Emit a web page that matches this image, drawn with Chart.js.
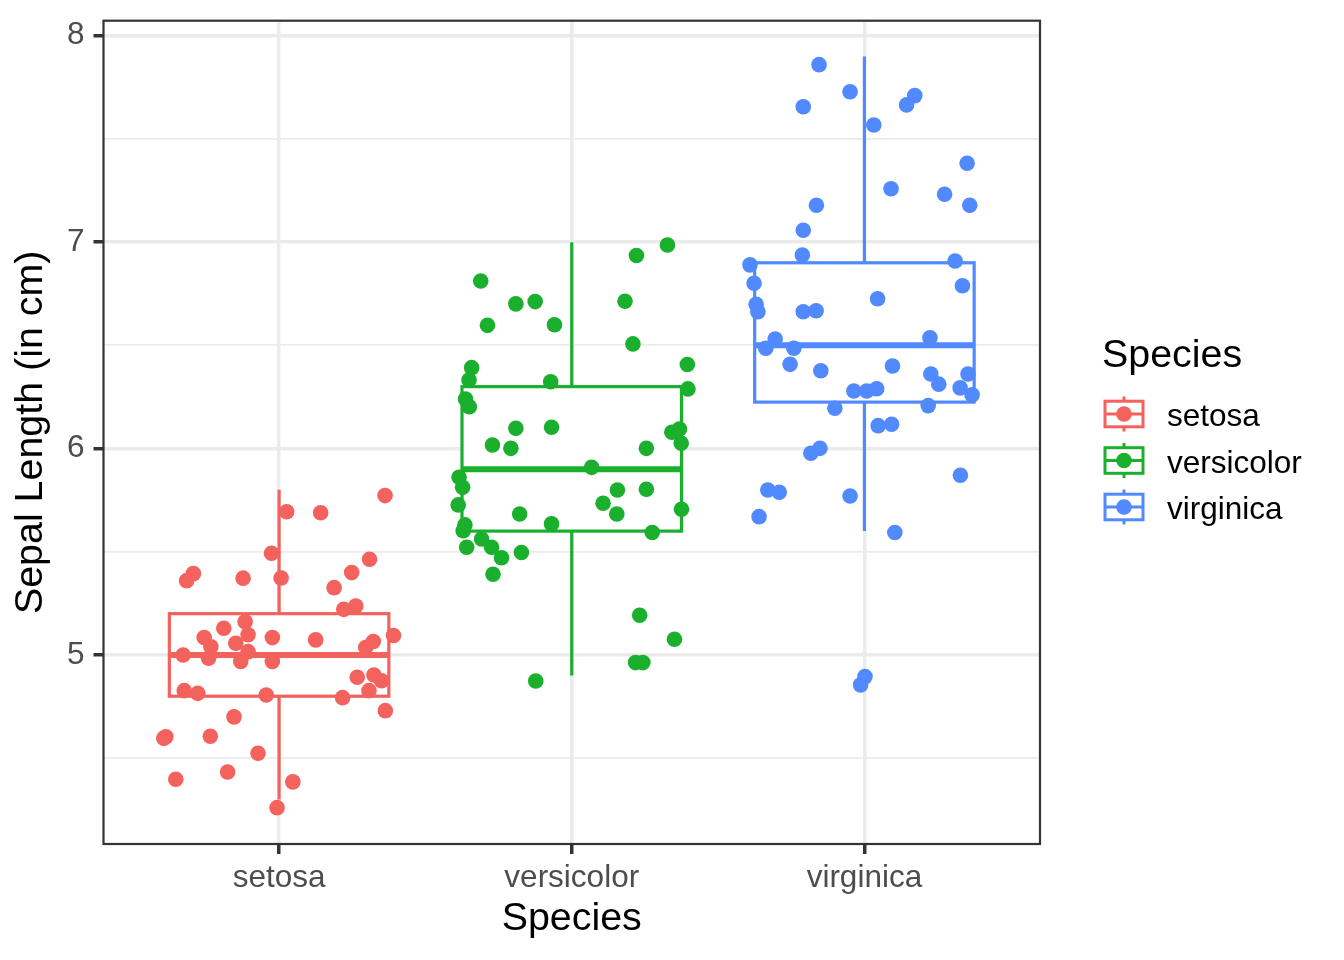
<!DOCTYPE html>
<html>
<head>
<meta charset="utf-8">
<title>Sepal Length by Species</title>
<script src="https://cdn.jsdelivr.net/npm/chart.js@4/dist/chart.umd.min.js"></script>
<style>
  html, body { margin: 0; padding: 0; background: #ffffff; }
  #wrap { width: 1344px; height: 960px; }
</style>
</head>
<body>
<div id="wrap"><canvas id="chart" width="1344" height="960"></canvas></div>
<script>
// categories and colours
const species = ['setosa', 'versicolor', 'virginica'];
const speciesColors = ['#F4625D', '#1AB02E', '#5189FF'];
const yTicks = [4.5, 5, 5.5, 6, 6.5, 7, 7.5, 8];

// box statistics per species
const q1 = [4.8, 5.6, 6.225];
const median = [5.0, 5.9, 6.5];
const q3 = [5.2, 6.3, 6.9];
const whiskerLow = [4.3, 4.9, 5.6];
const whiskerHigh = [5.8, 7.0, 7.9];

// jittered points (x jitter in category units, y in cm)
const setosaJitter = [0.362, 0.026, 0.142, -0.026, 0.309, -0.293, -0.316, -0.123, 0.007, 0.248,
    0.188, 0.262, 0.221, -0.116, -0.189, 0.391, -0.256, -0.106, -0.023, 0.125,
    -0.148, 0.322, 0.296, -0.233, -0.328, -0.241, -0.106, -0.131, -0.023, 0.267,
    0.324, 0.350, 0.307, -0.324, -0.278, -0.044, 0.217, 0.363, -0.154, -0.387,
    -0.394, -0.235, -0.072, -0.353, -0.176, 0.047, -0.007];
const setosaValue = [5.772, 5.694, 5.689, 5.493, 5.464, 5.394, 5.360, 5.372, 5.373, 5.399,
    5.326, 5.237, 5.221, 5.161, 5.129, 5.094, 5.084, 5.098, 5.084, 5.073,
    5.057, 5.065, 5.036, 5.040, 5.000, 4.984, 5.016, 4.968, 4.968, 4.892,
    4.903, 4.875, 4.827, 4.827, 4.814, 4.806, 4.793, 4.730, 4.700, 4.604,
    4.596, 4.606, 4.524, 4.398, 4.433, 4.385, 4.260];

const versicolorJitter = [0.327, 0.221, -0.311, -0.191, -0.125, 0.182, -0.288, -0.059, 0.209, 0.395,
    -0.342, -0.351, -0.072, 0.397, -0.363, -0.350, -0.191, -0.069, -0.271, -0.208,
    0.255, 0.342, 0.368, 0.374, 0.068, -0.385, -0.373, 0.156, 0.255, 0.107,
    -0.388, -0.178, 0.154, 0.375, -0.069, -0.365, -0.371, 0.275, -0.308, -0.359,
    -0.274, -0.240, -0.172, -0.269, 0.232, 0.351, 0.218, 0.243, -0.123];
const versicolorValue = [6.986, 6.935, 6.812, 6.701, 6.712, 6.714, 6.597, 6.600, 6.507, 6.407,
    6.392, 6.332, 6.324, 6.289, 6.240, 6.203, 6.098, 6.103, 6.017, 6.001,
    6.001, 6.079, 6.095, 6.026, 5.909, 5.861, 5.812, 5.799, 5.803, 5.735,
    5.727, 5.683, 5.683, 5.706, 5.635, 5.630, 5.602, 5.593, 5.562, 5.522,
    5.522, 5.471, 5.496, 5.391, 5.192, 5.076, 4.963, 4.963, 4.874];

const virginicaJitter = [-0.155, -0.049, -0.209, 0.172, 0.144, 0.032, 0.351, 0.091, 0.274, 0.360,
    -0.164, -0.209, -0.212, -0.391, 0.310, -0.377, 0.335, 0.045, -0.370, -0.364,
    -0.209, -0.165, -0.305, -0.337, -0.241, 0.224, -0.254, -0.149, 0.096, 0.227,
    0.254, 0.354, 0.327, 0.368, -0.036, 0.008, 0.042, -0.101, 0.218, 0.047,
    0.093, -0.183, -0.152, 0.328, -0.330, -0.291, -0.360, -0.049, 0.104, 0.002,
    -0.013];
const virginicaValue = [7.860, 7.729, 7.656, 7.710, 7.665, 7.568, 7.382, 7.259, 7.232, 7.179,
    7.179, 7.058, 6.938, 6.890, 6.909, 6.801, 6.789, 6.726, 6.699, 6.663,
    6.663, 6.668, 6.531, 6.486, 6.486, 6.537, 6.408, 6.377, 6.400, 6.361,
    6.312, 6.361, 6.294, 6.260, 6.279, 6.279, 6.290, 6.195, 6.208, 6.111,
    6.118, 5.977, 6.001, 5.871, 5.799, 5.788, 5.670, 5.770, 5.593, 4.895,
    4.855];

const jitters = [setosaJitter, versicolorJitter, virginicaJitter];
const values = [setosaValue, versicolorValue, virginicaValue];

const FONT = '"Liberation Sans", Arial, Helvetica, sans-serif';
const BOX_HALF = 0.375;

//********************************************************************************
///Boxplots, drawn under the points
//********************************************************************************
const boxPlugin = {
    id: 'boxes',
    beforeDatasetsDraw(chart) {
        const { ctx, scales: { x, y } } = chart;
        ctx.save();
        species.forEach((name, i) => {
            const cx = x.getPixelForValue(i + 1);
            const left = x.getPixelForValue(i + 1 - BOX_HALF);
            const right = x.getPixelForValue(i + 1 + BOX_HALF);
            const yQ1 = y.getPixelForValue(q1[i]);
            const yQ3 = y.getPixelForValue(q3[i]);
            const yMed = y.getPixelForValue(median[i]);
            ctx.strokeStyle = speciesColors[i];
            ctx.lineWidth = 3.2;
            ctx.lineCap = 'butt';

            // whiskers
            ctx.beginPath();
            ctx.moveTo(cx, yQ3);
            ctx.lineTo(cx, y.getPixelForValue(whiskerHigh[i]));
            ctx.moveTo(cx, yQ1);
            ctx.lineTo(cx, y.getPixelForValue(whiskerLow[i]));
            ctx.stroke();

            // box
            ctx.fillStyle = '#ffffff';
            ctx.fillRect(left, yQ3, right - left, yQ1 - yQ3);
            ctx.strokeRect(left, yQ3, right - left, yQ1 - yQ3);

            // median
            ctx.lineWidth = 6;
            ctx.beginPath();
            ctx.moveTo(left, yMed);
            ctx.lineTo(right, yMed);
            ctx.stroke();
        });
        ctx.restore();
    }
};

//********************************************************************************
///Panel border and legend
//********************************************************************************
const framePlugin = {
    id: 'frame',
    afterDraw(chart) {
        const { ctx, chartArea: a } = chart;
        ctx.save();
        ctx.strokeStyle = '#333333';
        ctx.lineWidth = 2.2;
        ctx.strokeRect(a.left, a.top, a.right - a.left, a.bottom - a.top);

        // legend
        ctx.fillStyle = '#000000';
        ctx.textAlign = 'left';
        ctx.textBaseline = 'alphabetic';
        ctx.font = '39.4px ' + FONT;
        ctx.fillText('Species', 1102, 366.5);

        ctx.font = '31.5px ' + FONT;
        species.forEach((name, i) => {
            const cy = 414 + i * 46.5;
            const cx = 1124;
            const col = speciesColors[i];
            ctx.strokeStyle = col;
            ctx.lineWidth = 3;
            ctx.beginPath();
            ctx.moveTo(cx, cy - 17.5);
            ctx.lineTo(cx, cy - 12.8);
            ctx.moveTo(cx, cy + 12.8);
            ctx.lineTo(cx, cy + 17.5);
            ctx.moveTo(cx - 19, cy);
            ctx.lineTo(cx + 19, cy);
            ctx.stroke();
            ctx.strokeRect(cx - 19, cy - 12.8, 38, 25.6);
            ctx.fillStyle = col;
            ctx.beginPath();
            ctx.arc(cx, cy, 7.8, 0, Math.PI * 2);
            ctx.fill();

            ctx.fillStyle = '#000000';
            ctx.fillText(name, 1167, cy + 12);
        });
        ctx.restore();
    }
};

//********************************************************************************
///Chart
//********************************************************************************
const datasets = species.map((name, i) => ({
    label: name,
    data: values[i].map((v, k) => ({ x: i + 1 + jitters[i][k], y: v })),
    backgroundColor: speciesColors[i],
    borderWidth: 0,
    pointRadius: 7.8,
    pointHoverRadius: 7.8
}));

const isMajor = ctx => ctx.tick && Math.abs(ctx.tick.value % 1) < 1e-9;

new Chart(document.getElementById('chart'), {
    type: 'scatter',
    data: { datasets },
    options: {
        responsive: false,
        animation: false,
        events: [],
        layout: { padding: { left: 0, right: 304, top: 20.7, bottom: 0 } },
        plugins: {
            legend: { display: false },
            tooltip: { enabled: false }
        },
        scales: {
            x: {
                type: 'linear',
                min: 0.4,
                max: 3.6,
                afterBuildTicks: scale => { scale.ticks = species.map((s, i) => ({ value: i + 1 })); },
                afterFit: scale => {
                    scale.height = 116;
                    scale.paddingLeft = 0;
                    scale.paddingRight = 0;
                },
                ticks: {
                    callback: v => species[Math.round(v) - 1],
                    font: { family: FONT, size: 31.5 },
                    color: '#4D4D4D',
                    padding: 5,
                    maxRotation: 0,
                    autoSkip: false
                },
                grid: {
                    color: '#EBEBEB',
                    lineWidth: 3.5,
                    tickColor: '#333333',
                    tickWidth: 3.5,
                    tickLength: 10
                },
                border: { display: false },
                title: {
                    display: true,
                    text: 'Species',
                    color: '#000000',
                    font: { family: FONT, size: 39.4 },
                    padding: { top: 0, bottom: 17 }
                }
            },
            y: {
                type: 'linear',
                min: 4.084,
                max: 8.073,
                afterBuildTicks: scale => { scale.ticks = yTicks.map(v => ({ value: v })); },
                afterFit: scale => {
                    scale.width = 103.5;
                    scale.paddingTop = 0;
                    scale.paddingBottom = 0;
                },
                ticks: {
                    callback: v => (v % 1 === 0 ? String(v) : ''),
                    font: { family: FONT, size: 31.5 },
                    color: '#4D4D4D',
                    padding: 9
                },
                grid: {
                    color: '#EBEBEB',
                    lineWidth: ctx => (isMajor(ctx) ? 3.5 : 1.8),
                    tickColor: ctx => (isMajor(ctx) ? '#333333' : 'rgba(0,0,0,0)'),
                    tickWidth: 3.5,
                    tickLength: 10
                },
                border: { display: false },
                title: {
                    display: true,
                    text: 'Sepal Length (in cm)',
                    color: '#000000',
                    font: { family: FONT, size: 39.4 },
                    padding: { top: 8, bottom: 0 }
                }
            }
        }
    },
    plugins: [boxPlugin, framePlugin]
});
</script>
</body>
</html>
